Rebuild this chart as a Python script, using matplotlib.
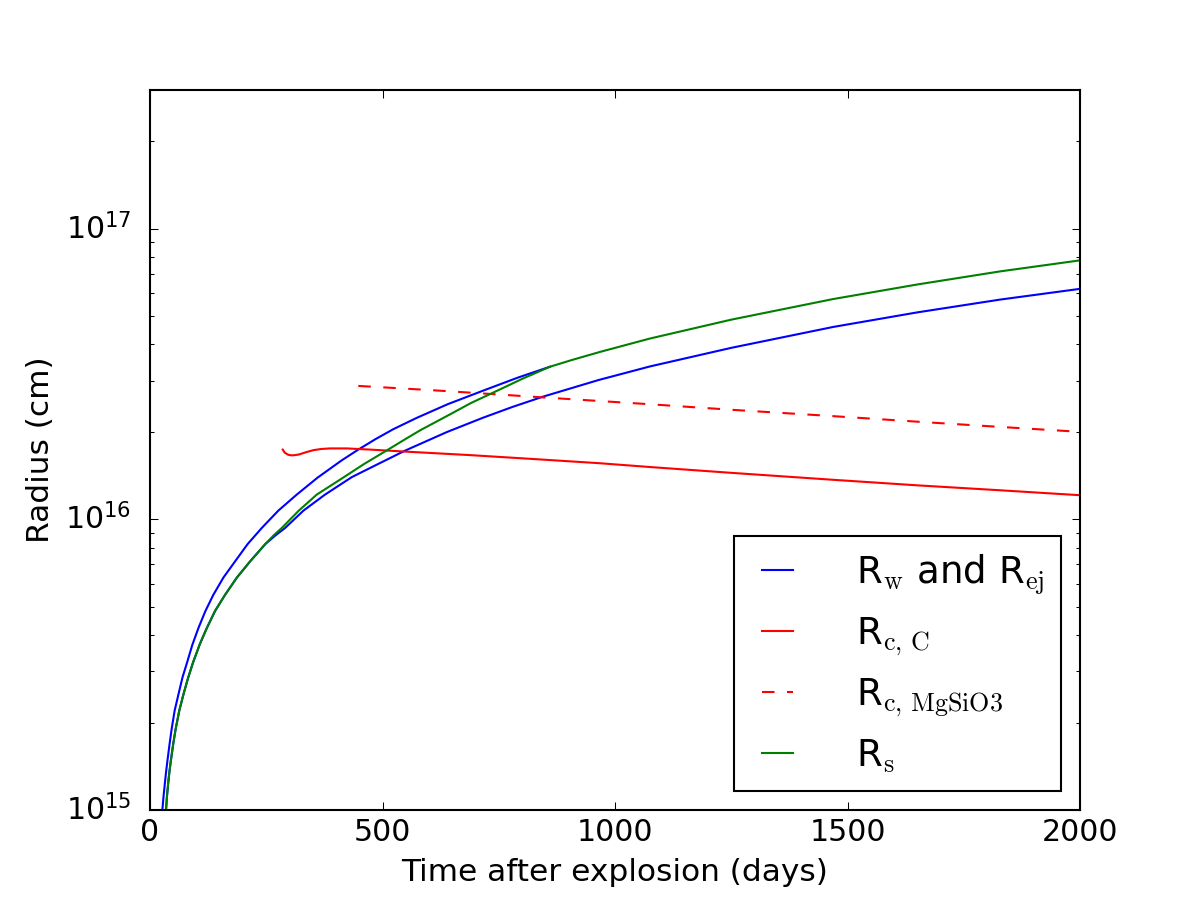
import numpy as np
import matplotlib
matplotlib.use("Agg")
import matplotlib.pyplot as plt

# ---- data (radii given as log10(R / cm)) ----
t_outer = [26.5, 29, 32, 34.5, 37.2, 42, 46.7, 53, 60.9, 70, 80.2, 91, 103.9,
           119, 136.1, 158, 182.8, 210, 240.2, 276, 315.5, 360, 412.3, 448,
           485, 523, 573.5, 640, 716.8, 790, 860]
logr_outer = [14.999, 15.045, 15.092, 15.130, 15.166, 15.226, 15.280, 15.342,
              15.396, 15.457, 15.510, 15.568, 15.625, 15.684, 15.740, 15.800,
              15.855, 15.915, 15.970, 16.030, 16.085, 16.143, 16.203, 16.240,
              16.276, 16.310, 16.349, 16.396, 16.443, 16.487, 16.525]

t_inner = [34.4, 36.5, 39, 41.5, 44.5, 50, 55.3, 63, 71.6, 82, 93.1, 107,
           121.9, 140, 161.3, 187, 215.1, 248, 270, 290.3, 330, 376.3, 433.7,
           490, 548, 638, 716.8, 780, 845, 964, 1075, 1250, 1469.5, 1650, 1828,
           2000]
logr_inner = [14.999, 15.047, 15.090, 15.128, 15.166, 15.228, 15.280, 15.342,
              15.396, 15.455, 15.510, 15.570, 15.625, 15.685, 15.740, 15.800,
              15.855, 15.915, 15.945, 15.970, 16.030, 16.085, 16.145, 16.190,
              16.236, 16.300, 16.350, 16.387, 16.422, 16.479, 16.526, 16.590,
              16.662, 16.712, 16.756, 16.793]

t_cC = [285.4, 290, 297.4, 305, 311.8, 320, 329.7, 340, 351.3, 368, 387, 423,
        473, 550, 688, 820, 967.7, 1075, 1250, 1469.5, 1650, 1828, 2000]
logr_cC = [16.240, 16.229, 16.222, 16.220, 16.221, 16.223, 16.228, 16.233,
           16.238, 16.242, 16.244, 16.244, 16.240, 16.233, 16.221, 16.208,
           16.193, 16.180, 16.160, 16.136, 16.117, 16.100, 16.083]

t_cMg = [448, 600, 716.8, 850, 967.7, 1075, 1250, 1469.5, 1650, 1828, 2000]
logr_cMg = [16.459, 16.445, 16.433, 16.419, 16.407, 16.396, 16.377, 16.355,
            16.336, 16.318, 16.301]

t_s = [34.4, 36.5, 39, 41.5, 44.5, 50, 55.3, 63, 71.6, 82, 93.1, 107, 121.9,
       140, 161.3, 187, 215.1, 248, 266, 283.2, 320, 358.5, 412, 460, 509,
       545, 580.6, 645, 690, 738, 800, 860, 906.8, 967.7, 1075, 1250, 1469.5,
       1650, 1828, 2000]
logr_s = [14.999, 15.047, 15.090, 15.128, 15.166, 15.228, 15.280, 15.342,
          15.396, 15.455, 15.510, 15.570, 15.625, 15.685, 15.740, 15.800,
          15.855, 15.915, 15.945, 15.970, 16.030, 16.085, 16.140, 16.190,
          16.237, 16.272, 16.306, 16.361, 16.400, 16.436, 16.483, 16.525,
          16.548, 16.576, 16.622, 16.687, 16.758, 16.808, 16.853, 16.891]

labels = [r'R$_{\rm w}$ and R$_{\rm ej}$', r'R$_{\rm c,\,C}$',
          r'R$_{\rm c,\,MgSiO3}$', r'R$_{\rm s}$']
xticks = [0, 500, 1000, 1500, 2000]

plt.style.use('classic')
plt.rcParams['savefig.facecolor'] = 'white'
plt.rcParams['figure.facecolor'] = 'white'

fig = plt.figure(figsize=(8, 6), dpi=150)
ax = fig.add_subplot(111)


def to_r(a):
    return 10.0 ** np.asarray(a)


ax.plot(t_outer, to_r(logr_outer), color='b', lw=1.0, label=labels[0])
ax.plot(t_inner, to_r(logr_inner), color='b', lw=1.0)
ax.plot(t_cC, to_r(logr_cC), color='r', lw=1.0, label=labels[1])
ax.plot(t_cMg, to_r(logr_cMg), color='r', lw=1.0, linestyle='--',
        dashes=(6, 6), label=labels[2])
ax.plot(t_s, to_r(logr_s), color='g', lw=1.0, label=labels[3])

ax.set_yscale('log')
ax.set_xlim(0, 2000)
ax.set_ylim(1e15, 3e17)
ax.set_xticks(xticks)
ax.tick_params(axis='both', which='major', labelsize=14.4)
ax.tick_params(axis='y', which='both', pad=9)

ax.set_xlabel('Time after explosion (days)', fontsize=15)
ax.set_ylabel('Radius (cm)', fontsize=15)

leg = ax.legend(loc=4, fontsize=17.8, handlelength=1.45, handletextpad=1.4,
                numpoints=2, fancybox=False, borderpad=0.45)
leg.get_frame().set_edgecolor('black')

fig.savefig('out.png', dpi=150, facecolor='white')
